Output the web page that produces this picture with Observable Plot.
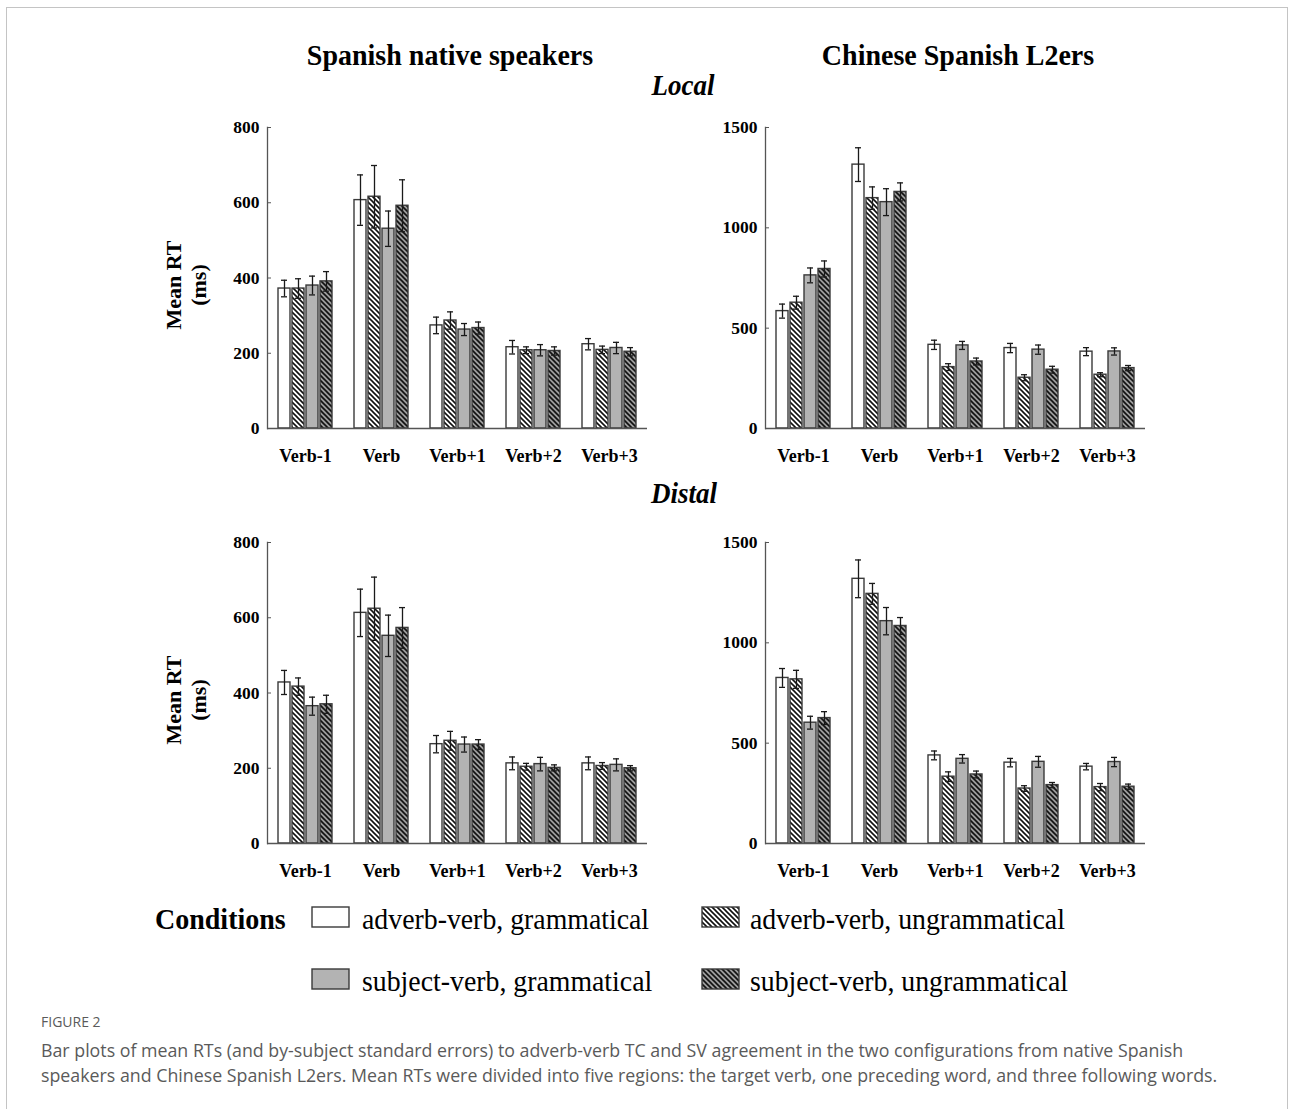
<!DOCTYPE html>
<html>
<head>
<meta charset="utf-8">
<script src="https://cdn.jsdelivr.net/npm/d3@7"></script>
<script src="https://cdn.jsdelivr.net/npm/@observablehq/plot@0.6"></script>
<style>
  html, body { margin: 0; padding: 0; background: #fff; }
  #page { position: relative; width: 1293px; height: 1109px; overflow: hidden; background: #fff; }
  #frame { position: absolute; left: 6px; top: 7px; width: 1282px; height: 1120px; border: 1px solid #c4c4c4; box-sizing: border-box; }
  .serif { font-family: "Liberation Serif", "Times New Roman", serif; color: #000; }
  .abs { position: absolute; white-space: nowrap; line-height: 1; }
  .title { font-size: 28px; font-weight: bold; transform: translateX(-50%) scaleY(1.08); }
  .sub { font-size: 27px; font-weight: bold; font-style: italic; transform: translateX(-50%) scaleY(1.08); }
  .ylab { font-size: 22px; font-weight: bold; text-align: center; line-height: 25px; transform: translate(-50%, -50%) rotate(-90deg); }
  .leg { font-size: 27.8px; transform: scaleY(1.06); transform-origin: left center; }
  .legb { font-size: 28px; font-weight: bold; transform: scaleY(1.06); transform-origin: left center; }
  .sw { position: absolute; }
  .cap { font-family: "Open Sans", sans-serif; color: #5a5a5a; position: absolute; left: 41px; white-space: nowrap; }
  .plot { position: absolute; }
</style>
</head>
<body>
<div id="page">
  <svg width="0" height="0" style="position:absolute">
    <defs>
      <pattern id="hatchA" patternUnits="userSpaceOnUse" width="5" height="5">
        <rect width="5" height="5" fill="#ffffff"/>
        <path d="M-1,-1L6,6M-1,4L1,6M4,-1L6,1" stroke="#111" stroke-width="1.6"/>
      </pattern>
      <pattern id="hatchB" patternUnits="userSpaceOnUse" width="5" height="5">
        <rect width="5" height="5" fill="#9c9c9c"/>
        <path d="M-1,-1L6,6M-1,4L1,6M4,-1L6,1" stroke="#111" stroke-width="1.6"/>
      </pattern>
    </defs>
  </svg>
  <div id="frame"></div>
  <div id="content"></div>
</div>
<script>
// ---------- data ----------
const regions = ["Verb-1", "Verb", "Verb+1", "Verb+2", "Verb+3"];
const conditions = [
  "adverb-verb, grammatical",
  "adverb-verb, ungrammatical",
  "subject-verb, grammatical",
  "subject-verb, ungrammatical"
];
const nativeTicks = [0, 200, 400, 600, 800];
const l2Ticks = [0, 500, 1000, 1500];

// rows = regions, columns = conditions
const nativeLocalMean = [[372, 372, 380, 391], [607, 616, 531, 592], [274, 287, 263, 267], [216, 208, 208, 206], [224, 209, 214, 204]];
const nativeLocalSE   = [[22, 26, 25, 26], [67, 83, 47, 69], [22, 23, 16, 16], [18, 9, 15, 11], [15, 10, 15, 11]];
const l2LocalMean     = [[585, 627, 763, 795], [1315, 1148, 1128, 1179], [417, 306, 414, 334], [401, 253, 393, 293], [383, 268, 384, 301]];
const l2LocalSE       = [[35, 32, 37, 40], [84, 56, 67, 45], [23, 17, 20, 17], [23, 15, 23, 17], [20, 10, 18, 13]];
const nativeDistalMean = [[428, 417, 365, 370], [613, 624, 552, 573], [264, 273, 263, 263], [213, 204, 211, 201], [213, 206, 209, 200]];
const nativeDistalSE   = [[32, 23, 24, 24], [63, 84, 55, 54], [23, 25, 20, 13], [17, 9, 18, 8], [17, 9, 16, 7]];
const l2DistalMean     = [[825, 818, 602, 625], [1319, 1244, 1108, 1084], [439, 333, 422, 344], [403, 274, 407, 291], [383, 281, 406, 283]];
const l2DistalSE       = [[47, 45, 32, 32], [94, 52, 68, 42], [22, 24, 21, 17], [21, 14, 27, 13], [16, 18, 23, 13]];

const fills = ["#ffffff", "url(#hatchA)", "#b3b3b3", "url(#hatchB)"];

// ---------- layout ----------
const ML = 70, MR = 10, MT = 15, MB = 45, PW = 381, PH = 301;

function panel(means, ses, ticks) {
  const data = regions.flatMap((r, i) => conditions.map((c, j) => ({
    region: r, cond: c, mean: means[i][j], lo: means[i][j] - ses[i][j], hi: means[i][j] + ses[i][j]
  })));
  return Plot.plot({
    width: ML + PW + MR,
    height: MT + PH + MB,
    marginLeft: ML, marginRight: MR, marginTop: MT, marginBottom: MB,
    style: { fontFamily: "'Liberation Serif', 'Times New Roman', serif", color: "#000", background: "transparent" },
    fx: { domain: regions, padding: 0, label: null },
    x: { domain: conditions, paddingInner: 0.17, paddingOuter: 0.62, axis: null },
    y: { domain: [0, ticks[ticks.length - 1]], axis: null },
    color: { domain: conditions, range: fills },
    marks: [
      Plot.barY(data, { fx: "region", x: "cond", y: "mean", fill: "cond", stroke: "#3a3a3a", strokeWidth: 1.4 }),
      Plot.ruleX(data, { fx: "region", x: "cond", y1: "lo", y2: "hi", stroke: "#1a1a1a", strokeWidth: 1.3 }),
      Plot.tickY(data, { fx: "region", x: "cond", y: "lo", stroke: "#1a1a1a", strokeWidth: 1.3, inset: 3 }),
      Plot.tickY(data, { fx: "region", x: "cond", y: "hi", stroke: "#1a1a1a", strokeWidth: 1.3, inset: 3 }),
      Plot.ruleY([0], { stroke: "#555", strokeWidth: 1.3 }),
      Plot.frame({ anchor: "left", facetAnchor: "left", stroke: "#555", strokeWidth: 1.3 }),
      Plot.axisY({ ticks, tickSize: 0, tickPadding: 8, fontWeight: "bold", fontSize: 17.5, label: null, tickFormat: d => String(d) }),
      Plot.axisY({ ticks, text: null, tickSize: 4, dx: 4, stroke: "#555", label: null }),
      Plot.axisFx({ anchor: "bottom", tickSize: 0, tickPadding: 21, fontWeight: "bold", fontSize: 18, label: null })
    ]
  });
}

const content = document.getElementById("content");
function place(el, left, top) {
  const wrap = document.createElement("div");
  wrap.className = "plot";
  wrap.style.left = left + "px";
  wrap.style.top = top + "px";
  wrap.appendChild(el);
  content.appendChild(wrap);
}
const leftAxisX = 266, rightAxisX = 764, topY = 127, botY = 542;
place(panel(nativeLocalMean, nativeLocalSE, nativeTicks), leftAxisX - ML, topY - MT);
place(panel(l2LocalMean, l2LocalSE, l2Ticks), rightAxisX - ML, topY - MT);
place(panel(nativeDistalMean, nativeDistalSE, nativeTicks), leftAxisX - ML, botY - MT);
place(panel(l2DistalMean, l2DistalSE, l2Ticks), rightAxisX - ML, botY - MT);

// ---------- texts ----------
function text(cls, str, left, top, extra) {
  const d = document.createElement("div");
  d.className = "abs serif " + cls;
  d.style.left = left + "px";
  d.style.top = top + "px";
  d.innerHTML = str;
  if (extra) Object.assign(d.style, extra);
  content.appendChild(d);
  return d;
}
text("title", "Spanish native speakers", 450, 41);
text("title", "Chinese Spanish L2ers", 958, 41);
text("sub", "Local", 683, 72);
text("sub", "Distal", 684, 480);
text("ylab", "Mean RT<br>(ms)", 186, 285);
text("ylab", "Mean RT<br>(ms)", 186, 700);

// legend
text("legb", "Conditions", 155, 905);
const legPos = [[312, 907], [702, 907], [312, 969], [702, 969]];
conditions.forEach((c, i) => {
  const [x, y] = legPos[i];
  const s = document.createElementNS("http://www.w3.org/2000/svg", "svg");
  s.setAttribute("width", 40); s.setAttribute("height", 23);
  s.setAttribute("class", "sw");
  s.style.left = (x - 1) + "px"; s.style.top = (y - 1) + "px";
  const r = document.createElementNS("http://www.w3.org/2000/svg", "rect");
  r.setAttribute("x", 1); r.setAttribute("y", 1); r.setAttribute("width", 37); r.setAttribute("height", 20);
  r.setAttribute("fill", fills[i]); r.setAttribute("stroke", "#3a3a3a"); r.setAttribute("stroke-width", 1.4);
  s.appendChild(r);
  content.appendChild(s);
  text("leg", c, x + (i % 2 === 0 ? 50 : 48), y - 2);
});

// caption
const cap1 = document.createElement("div");
cap1.className = "cap";
cap1.style.top = "1013px"; cap1.style.fontSize = "14px"; cap1.style.lineHeight = "18px";
cap1.textContent = "FIGURE 2";
content.appendChild(cap1);
const cap2 = document.createElement("div");
cap2.className = "cap";
cap2.style.top = "1038px"; cap2.style.fontSize = "17.8px"; cap2.style.lineHeight = "25px";
cap2.innerHTML = "Bar plots of mean RTs (and by-subject standard errors) to adverb-verb TC and SV agreement in the two configurations from native Spanish<br>speakers and Chinese Spanish L2ers. Mean RTs were divided into five regions: the target verb, one preceding word, and three following words.";
content.appendChild(cap2);
</script>
</body>
</html>
